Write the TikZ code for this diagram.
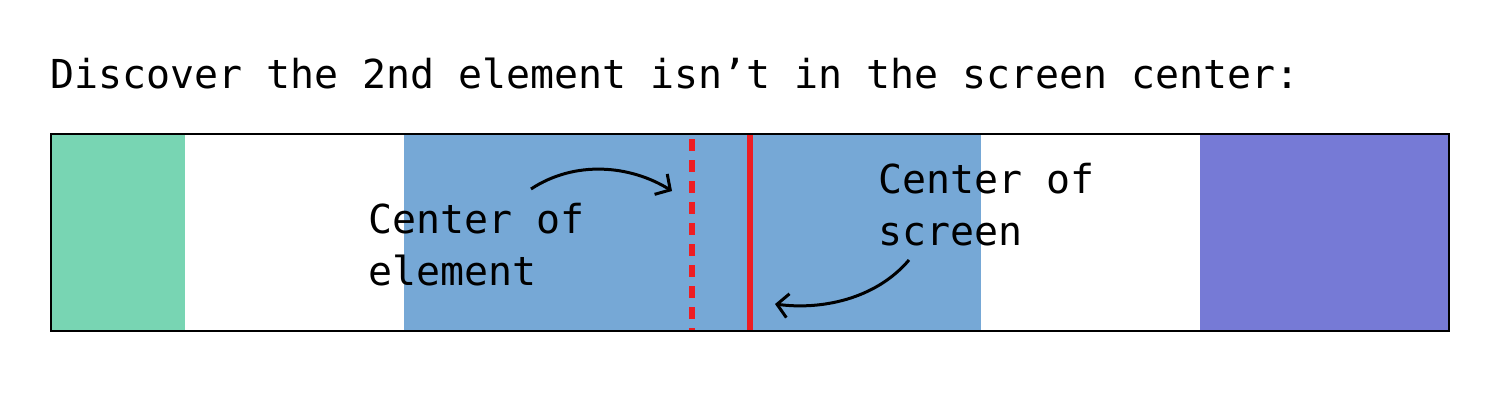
\documentclass[tikz,border=0pt]{standalone}
\usepackage{fontspec}
\setmonofont{DejaVu Sans Mono}
\usetikzlibrary{arrows.meta}
\definecolor{cgreen}{HTML}{78D5B3}
\definecolor{cblue}{HTML}{76A8D6}
\definecolor{cpurple}{HTML}{767AD6}
\definecolor{cred}{HTML}{EE1D23}
\tikzset{
  lbl/.style={inner sep=0pt, anchor=base west, align=left, font=\ttfamily\fontsize{39.9}{52}\selectfont},
  curvedarrow/.style={line width=3pt, -{Straight Barb[length=11pt,width=24pt,line width=3pt]}},
}
\begin{document}
\begin{tikzpicture}[x=1pt,y=-1pt]
\useasboundingbox (0,0) rectangle (1500,400);
% regions
\fill[cgreen] (51,134) rectangle (185,331);
\fill[cblue] (404,134) rectangle (981,331);
\fill[cpurple] (1200,134) rectangle (1449,331);
% center lines
\draw[cred, line width=5.5pt, dash pattern=on 12pt off 9pt] (692,139) -- (692,331);
\draw[cred, line width=5.5pt] (750,134) -- (750,331);
% frame
\draw[line width=2.2pt] (51,134) rectangle (1449,331);
% title
\node[lbl] (title) at (50,88) {Discover the 2nd element isn’t in the screen center:};
% labels
\node[lbl] (elem) at (368,285) {Center of\\element};
\node[lbl] (scr) at (878,245) {Center of\\screen};
% arrows
\coordinate (a1s) at (531,189);
\coordinate (a1e) at (672,191);
\coordinate (a2s) at (909,260);
\coordinate (a2e) at (775,304);
\draw[curvedarrow] (a1s) .. controls (575,160) and (630,165) .. (a1e);
\draw[curvedarrow] (a2s) .. controls (875,300) and (820,310) .. (a2e);
\end{tikzpicture}
\end{document}
